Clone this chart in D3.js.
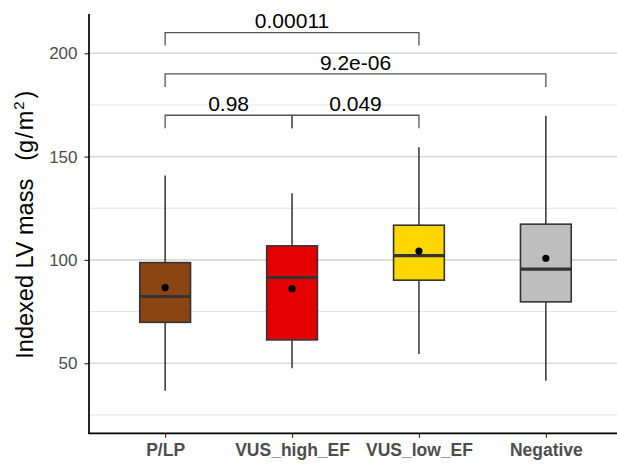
<!DOCTYPE html>
<html>
<head>
<meta charset="utf-8">
<script src="https://cdn.jsdelivr.net/npm/d3@7"></script>
<style>
  html, body { margin: 0; padding: 0; background: #ffffff; }
  svg { display: block; font-family: "Liberation Sans", Arial, sans-serif; }
</style>
</head>
<body>
<svg id="chart" width="617" height="464"></svg>
<script>
// ---- data ----
const categories = ["P/LP", "VUS_high_EF", "VUS_low_EF", "Negative"];
const whiskerLow  = [36.7, 47.6, 54.5, 41.5];
const q1          = [69.8, 61.3, 90.2, 79.7];
const medians     = [82.3, 91.5, 102.1, 95.5];
const q3          = [98.7, 106.8, 116.8, 117.3];
const whiskerHigh = [140.8, 132.3, 154.5, 169.8];
const means       = [86.6, 86.1, 104.3, 100.8];
const fills       = ["#8B4513", "#E50000", "#FFD700", "#BEBEBE"];

const yTicks      = [50, 100, 150, 200];
const yMinorTicks = [25, 75, 125, 175];

const compFrom    = ["P/LP", "VUS_high_EF", "P/LP", "P/LP"];
const compTo      = ["VUS_high_EF", "VUS_low_EF", "Negative", "VUS_low_EF"];
const compLabels  = ["0.98", "0.049", "9.2e-06", "0.00011"];
const compLevels  = [170, 170, 190, 210];
const tipLen = 6.3;

// ---- layout ----
const svg = d3.select("#chart");
const panel = { left: 89, right: 622, top: 14, bottom: 433.3 };

const x = d3.scalePoint().domain(categories).range([panel.left, panel.right]).padding(0.6);
const y = d3.scaleLinear().domain([16.1, 219]).range([panel.bottom, panel.top]);
const boxW = x.step() * 0.4;

// grid
svg.append("g").selectAll("line").data(yMinorTicks).join("line")
  .attr("x1", panel.left).attr("x2", panel.right)
  .attr("y1", d => y(d)).attr("y2", d => y(d))
  .attr("stroke", "#e3e3e3").attr("stroke-width", 1);
svg.append("g").selectAll("line").data(yTicks).join("line")
  .attr("x1", panel.left).attr("x2", panel.right)
  .attr("y1", d => y(d)).attr("y2", d => y(d))
  .attr("stroke", "#d9d9d9").attr("stroke-width", 1.6);

const data = categories.map((c, i) => ({
  c, lo: whiskerLow[i], q1: q1[i], med: medians[i], q3: q3[i], hi: whiskerHigh[i], mean: means[i], fill: fills[i]
}));

const g = svg.append("g");
// whiskers
g.selectAll(".wh").data(data).join("line").attr("class", "wh")
  .attr("x1", d => x(d.c)).attr("x2", d => x(d.c))
  .attr("y1", d => y(d.q3)).attr("y2", d => y(d.hi))
  .attr("stroke", "#333333").attr("stroke-width", 1.5);
g.selectAll(".wl").data(data).join("line").attr("class", "wl")
  .attr("x1", d => x(d.c)).attr("x2", d => x(d.c))
  .attr("y1", d => y(d.q1)).attr("y2", d => y(d.lo))
  .attr("stroke", "#333333").attr("stroke-width", 1.5);
// boxes
g.selectAll(".box").data(data).join("rect").attr("class", "box")
  .attr("x", d => x(d.c) - boxW / 2).attr("width", boxW)
  .attr("y", d => y(d.q3)).attr("height", d => y(d.q1) - y(d.q3))
  .attr("fill", d => d.fill).attr("stroke", "#333333").attr("stroke-width", 1.6);
// medians
g.selectAll(".med").data(data).join("line").attr("class", "med")
  .attr("x1", d => x(d.c) - boxW / 2).attr("x2", d => x(d.c) + boxW / 2)
  .attr("y1", d => y(d.med)).attr("y2", d => y(d.med))
  .attr("stroke", "#333333").attr("stroke-width", 3.2);
// means
g.selectAll(".mean").data(data).join("circle").attr("class", "mean")
  .attr("cx", d => x(d.c)).attr("cy", d => y(d.mean)).attr("r", 3.6)
  .attr("fill", "#000000");

// brackets
const comps = compLabels.map((l, i) => ({ a: compFrom[i], b: compTo[i], label: l, level: compLevels[i] }));
const br = svg.append("g");
br.selectAll("path").data(comps).join("path")
  .attr("d", d => `M${x(d.a)},${y(d.level - tipLen)}V${y(d.level)}H${x(d.b)}V${y(d.level - tipLen)}`)
  .attr("fill", "none").attr("stroke", "#555555").attr("stroke-width", 1.3);
br.selectAll("text").data(comps).join("text")
  .attr("x", d => (x(d.a) + x(d.b)) / 2).attr("y", d => y(d.level) - 4.4)
  .attr("text-anchor", "middle").attr("font-size", "21px").attr("fill", "#000000")
  .text(d => d.label);

// axes
const yAxis = d3.axisLeft(y).tickValues(yTicks).tickSize(4.5).tickPadding(7);
const ya = svg.append("g").attr("transform", `translate(${panel.left},0)`).call(yAxis);
ya.select(".domain").remove();
ya.selectAll(".tick line").attr("stroke", "#333333").attr("stroke-width", 1.2);
ya.selectAll(".tick text").attr("font-size", "17px").attr("fill", "#4d4d4d")
  .attr("font-family", "'Liberation Sans', Arial, sans-serif");

const xAxis = d3.axisBottom(x).tickSize(4.5).tickPadding(6);
const xa = svg.append("g").attr("transform", `translate(0,${panel.bottom})`).call(xAxis);
xa.select(".domain").remove();
xa.selectAll(".tick line").attr("stroke", "#333333").attr("stroke-width", 1.2);
xa.selectAll(".tick text").attr("font-size", "17.5px").attr("font-weight", "bold").attr("fill", "#4d4d4d")
  .attr("font-family", "'Liberation Sans', Arial, sans-serif");

// axis lines
svg.append("line").attr("x1", panel.left).attr("x2", panel.left)
  .attr("y1", panel.top).attr("y2", panel.bottom + 0.8)
  .attr("stroke", "#000000").attr("stroke-width", 1.7);
svg.append("line").attr("x1", panel.left - 0.8).attr("x2", panel.right)
  .attr("y1", panel.bottom).attr("y2", panel.bottom)
  .attr("stroke", "#000000").attr("stroke-width", 1.7);

// y title
const yt = svg.append("text")
  .attr("transform", `translate(33,${(panel.top + panel.bottom) / 2 + 1}) rotate(-90)`)
  .attr("text-anchor", "middle").attr("font-size", "23.5px").attr("fill", "#000000");
yt.append("tspan").text("Indexed LV mass \u00A0");
yt.append("tspan").attr("dx", 5).text("(g");
yt.append("tspan").attr("dx", 1.5).text("/");
yt.append("tspan").attr("dx", 1.5).text("m");
yt.append("tspan").attr("font-size", "15px").attr("dx", 1).attr("dy", "-9").text("2");
yt.append("tspan").attr("dx", 3).attr("dy", "9").text(")");
</script>
</body>
</html>
